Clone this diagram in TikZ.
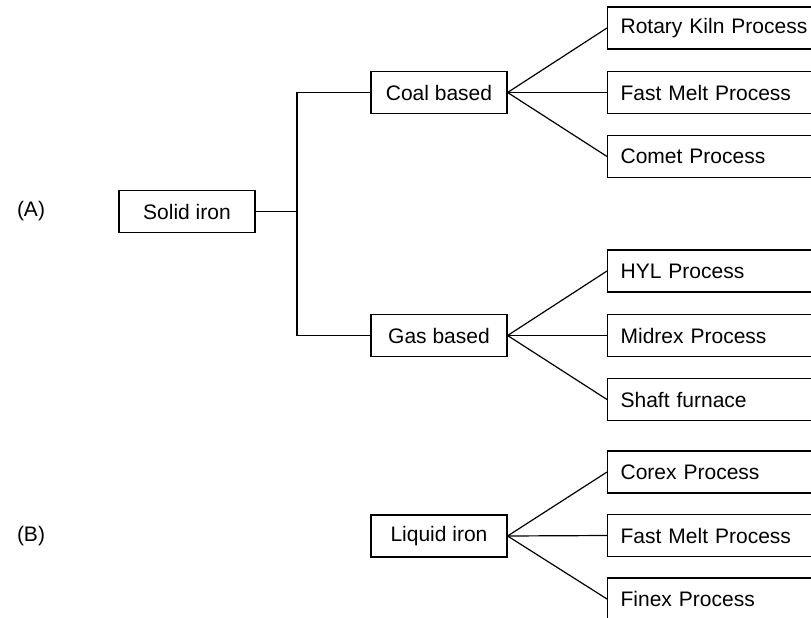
\documentclass[tikz,border=0pt]{standalone}
\usepackage{fontspec}
\setmainfont{Liberation Sans}
\usepackage{tikz}
\usetikzlibrary{positioning}
\usepackage{xcolor}

\begin{document}
\begin{tikzpicture}[x=1pt, y=-1pt,
  every node/.style={font=\fontsize{21}{25}\selectfont},
  route/.style={draw, line width=1.2pt, minimum width=136pt, minimum height=42pt, inner sep=0pt},
  process/.style={draw, line width=1.2pt, anchor=west, text width=189pt, align=left,
    inner xsep=13pt, minimum height=42pt, inner ysep=0pt},
  branch/.style={line width=1.2pt}
]
  \clip (0,0) rectangle (811,618);

  \node (labA) at (31, 211.5) {(A)};
  \node (labB) at (31, 536) {(B)};

  \node[route] (solid) at (187, 211.5) {Solid iron};
  \node[route] (coal) at (439, 92.5) {Coal based};
  \node[route] (gas) at (439, 335.5) {Gas based};
  \node[route] (liquid) at (439, 536) {Liquid iron};
  \coordinate (junction) at (297, 211.5);

  \node[process] (rotary) at (607, 28) {Rotary Kiln Process};
  \node[process] (fastA) at (607, 92.5) {Fast Melt Process};
  \node[process] (comet) at (607, 156.5) {Comet Process};
  \node[process] (hyl) at (607, 271) {HYL Process};
  \node[process] (midrex) at (607, 335.5) {Midrex Process};
  \node[process] (shaft) at (607, 399.5) {Shaft furnace};
  \node[process] (corex) at (607, 472) {Corex Process};
  \node[process] (fastB) at (607, 535.5) {Fast Melt Process};
  \node[process] (finex) at (607, 599) {Finex Process};

  \draw[branch] (solid.east) -- (junction);
  \draw[branch] (junction) |- (coal.west);
  \draw[branch] (junction) |- (gas.west);

  \draw[branch] (coal.east) -- (rotary.west);
  \draw[branch] (coal.east) -- (fastA.west);
  \draw[branch] (coal.east) -- (comet.west);
  \draw[branch] (gas.east) -- (hyl.west);
  \draw[branch] (gas.east) -- (midrex.west);
  \draw[branch] (gas.east) -- (shaft.west);
  \draw[branch] (liquid.east) -- (corex.west);
  \draw[branch] (liquid.east) -- (fastB.west);
  \draw[branch] (liquid.east) -- (finex.west);
\end{tikzpicture}
\end{document}
